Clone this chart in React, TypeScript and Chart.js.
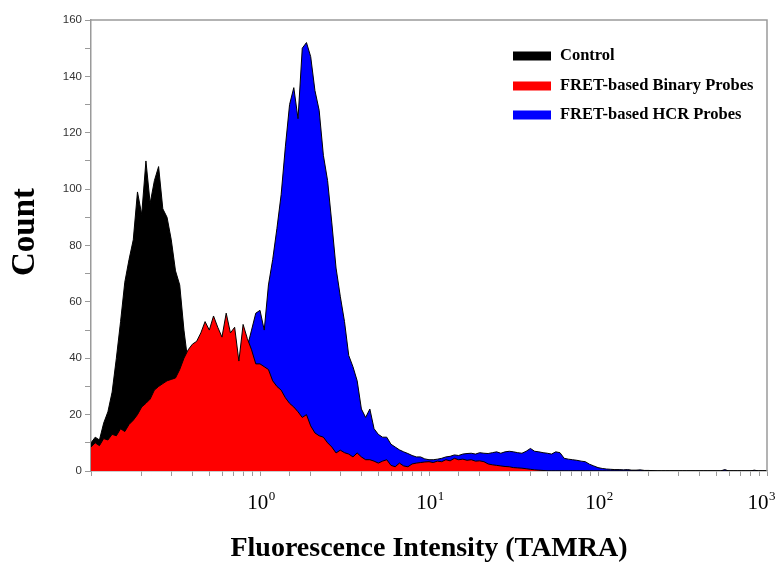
import { useEffect, useRef } from "react";
import { Chart, registerables, Plugin } from "chart.js";

Chart.register(...registerables);

// channel positions: 40 log-spaced channels per decade, 10^-1 .. 10^3
const CHANNELS = Array.from({ length: 161 }, (_, i) => Math.pow(10, -1 + i / 40));

const SERIES_NAMES = ["Control", "FRET-based Binary Probes", "FRET-based HCR Probes"];
const SERIES_COLORS = ["#000000", "#ff0000", "#0000ff"];

const CONTROL_COUNTS = [
  10, 12, 11, 17, 21, 28, 40, 53, 67, 75,
  82, 99, 91, 110, 95, 103, 108, 93, 90, 82,
  71, 66, 50, 38, 28, 20, 13, 8, 5, 3,
  2, 1, 0, 0, 0, 0, 0, 0, 0, 0,
  0, 0, 0, 0, 0, 0, 0, 0, 0, 0,
  0, 0, 0, 0, 0, 0, 0, 0, 0, 0,
  0, 0, 0, 0, 0, 0, 0, 0, 0, 0,
  0, 0, 0, 0, 0, 0, 0, 0, 0, 0,
  0, 0, 0, 0, 0, 0, 0, 0, 0, 0,
  0, 0, 0, 0, 0, 0, 0, 0, 0, 0,
  0, 0, 0, 0, 0, 0, 0, 0, 0, 0,
  0, 0, 0, 0, 0, 0, 0, 0, 0, 0,
  0, 0, 0, 0, 0, 0, 0, 0, 0, 0,
  0, 0, 0, 0, 0, 0, 0, 0, 0, 0,
  0, 0, 0, 0, 0, 0, 0, 0, 0, 0,
  0, 0, 0, 0, 0, 0, 0, 0, 0, 0,
  0,
];

const BINARY_COUNTS = [
  8.5, 10, 9, 11.5, 11, 13, 12.5, 15, 14, 16.5,
  18, 20, 22.7, 24, 25.5, 28.7, 30, 31, 32, 32.5,
  33, 36, 40, 43, 45, 46, 49, 53, 50, 55,
  51, 47.5, 56, 49, 51, 39, 52, 47, 43, 38,
  38, 37, 36, 32, 30, 28.7, 26, 24, 22.7, 21,
  19, 20, 16, 13.5, 12.5, 12, 10, 8.5, 6.4, 7.4,
  6.5, 6, 5, 6.4, 5, 4, 4, 3.5, 2.8, 3.5,
  4, 2, 1.5, 2.8, 1.8, 1.5, 2.5, 2.8, 3, 3.2,
  3.3, 3, 3.5, 3.3, 4, 3.6, 4.5, 4, 4.2, 3.8,
  4, 3.5, 3.6, 3.3, 2.5, 2.2, 2, 1.8, 1.6, 1.5,
  1.2, 1.1, 1, 0.8, 0.6, 0.4, 0.3, 0.2, 0, 0,
  0, 0, 0, 0, 0, 0, 0, 0, 0, 0,
  0, 0, 0, 0, 0, 0, 0, 0, 0, 0,
  0, 0, 0, 0, 0, 0, 0, 0, 0, 0,
  0, 0, 0, 0, 0, 0, 0, 0, 0, 0,
  0, 0, 0, 0, 0, 0, 0, 0, 0, 0,
  0,
];

const HCR_COUNTS = [
  0, 0, 0, 0, 0, 0, 0, 0, 0, 0,
  0, 0, 0, 0, 0, 0, 0, 0, 0, 0,
  0, 0, 0, 0, 0, 0, 0, 0, 0, 0,
  10, 14, 18, 22, 27, 32, 38, 44, 50, 56,
  57, 50, 66, 75, 86, 98, 115, 130, 136, 125,
  150, 152, 147, 135, 128, 112, 103, 88, 72, 62,
  53, 41, 37, 32, 22, 19, 22, 15, 13, 12,
  12, 9.5, 8.5, 7.5, 6.8, 6.2, 5.5, 5, 5, 4.3,
  4, 4, 4.2, 4.5, 5, 5.2, 5.7, 5.5, 6, 6.2,
  6.3, 6, 6.5, 6.3, 6.2, 6.5, 6.8, 6.3, 6.8, 7,
  6.8, 6.5, 6.3, 7, 8, 7, 6.8, 6.5, 6.3, 6,
  6.8, 6.5, 4.5, 4.2, 4, 3.8, 3.5, 3.3, 2.4, 1.8,
  1.2, 0.9, 0.7, 0.6, 0.5, 0.5, 0.4, 0.5, 0.3, 0.3,
  0.4, 0.2, 0.2, 0.1, 0, 0, 0, 0, 0, 0,
  0, 0, 0, 0, 0, 0, 0, 0, 0, 0,
  0.5, 0, 0, 0, 0, 0, 0, 0.3, 0, 0,
  0,
];

// decade labels drawn as 10 with a raised exponent
const X_DECADES = [0, 1, 2, 3];
const Y_MAX = 160;
const X_TITLE = "Fluorescence Intensity (TAMRA)";
const Y_TITLE = "Count";

const SERIF = "'Liberation Serif', 'Times New Roman', serif";

const toPoints = (counts: number[]) => counts.map((y, i) => ({ x: CHANNELS[i], y }));

// frame, decade labels, y title and the in-plot legend
const decorPlugin: Plugin<"line"> = {
  id: "decor",
  afterDraw(chart) {
    const { ctx, chartArea, width } = chart;
    const { left, top, right, bottom } = chartArea;
    ctx.save();
    ctx.strokeStyle = "#9a9a9a";
    ctx.lineWidth = 1.5;
    ctx.beginPath();
    ctx.moveTo(left, top);
    ctx.lineTo(right, top);
    ctx.lineTo(right, bottom);
    ctx.stroke();

    // x decade labels
    const xScale = chart.scales.x;
    ctx.fillStyle = "#000";
    ctx.textAlign = "left";
    ctx.textBaseline = "alphabetic";
    X_DECADES.forEach((k) => {
      const px = xScale.getPixelForValue(Math.pow(10, k));
      ctx.font = `21px ${SERIF}`;
      const baseW = ctx.measureText("10").width;
      ctx.font = `13px ${SERIF}`;
      const expW = ctx.measureText(String(k)).width;
      let x0 = px - (baseW + expW) / 2 + 1;
      if (x0 + baseW + expW > width - 3) x0 = width - 3 - baseW - expW;
      ctx.font = `21px ${SERIF}`;
      ctx.fillText("10", x0, bottom + 38);
      ctx.font = `13px ${SERIF}`;
      ctx.fillText(String(k), x0 + baseW + 0.5, bottom + 29);
    });

    ctx.font = `bold 33px ${SERIF}`;
    ctx.textAlign = "center";
    ctx.textBaseline = "middle";
    ctx.translate(left - 66, top + 212);
    ctx.rotate(-Math.PI / 2);
    ctx.fillText(Y_TITLE, 0, 0);
    ctx.restore();

    ctx.save();
    ctx.font = `bold 16.5px ${SERIF}`;
    ctx.textAlign = "left";
    ctx.textBaseline = "middle";
    const rows = [36, 66, 95];
    SERIES_NAMES.forEach((name, i) => {
      const x = right - 254;
      const y = top + rows[i];
      ctx.fillStyle = SERIES_COLORS[i];
      ctx.fillRect(x, y - 4.5, 38, 9);
      ctx.fillStyle = "#000";
      ctx.fillText(name, x + 47, y);
    });
    ctx.restore();
  },
};

export default function App() {
  const chartRef = useRef<HTMLCanvasElement>(null);
  const chartInstance = useRef<Chart | null>(null);

  useEffect(() => {
    document.body.style.margin = "0";
    if (!chartRef.current) return;

    if (chartInstance.current) {
      chartInstance.current.destroy();
    }

    const counts = [CONTROL_COUNTS, BINARY_COUNTS, HCR_COUNTS];
    const drawOrder = [1, 0, 2];

    chartInstance.current = new Chart(chartRef.current, {
      type: "line",
      data: {
        datasets: SERIES_NAMES.map((name, i) => ({
          label: name,
          data: toPoints(counts[i]),
          backgroundColor: SERIES_COLORS[i],
          borderColor: "#000",
          borderWidth: 1,
          pointRadius: 0,
          tension: 0,
          fill: "origin",
          order: drawOrder[i],
        })),
      },
      options: {
        animation: false,
        responsive: true,
        maintainAspectRatio: false,
        layout: { padding: { top: 20, right: 11, left: 0, bottom: 0 } },
        plugins: {
          legend: { display: false },
          tooltip: { enabled: false },
        },
        scales: {
          x: {
            type: "logarithmic",
            min: 0.1,
            max: 1000,
            border: { color: "#9a9a9a", width: 1.5 },
            grid: { drawOnChartArea: false, drawTicks: true, tickLength: 5, color: "#9a9a9a" },
            ticks: {
              autoSkip: false,
              maxRotation: 0,
              callback: () => "",
            },
            title: {
              display: true,
              text: X_TITLE,
              color: "#000",
              font: { family: SERIF, size: 28, weight: "bold", lineHeight: 1 },
              padding: 0,
            },
            afterFit: (scale) => {
              scale.height = 92;
              scale.paddingLeft = 0;
              scale.paddingRight = 0;
            },
          },
          y: {
            min: 0,
            max: Y_MAX,
            border: { color: "#9a9a9a", width: 1.5 },
            grid: { drawOnChartArea: false, drawTicks: true, tickLength: 6, color: "#9a9a9a" },
            ticks: {
              stepSize: 10,
              padding: 3,
              color: "#333",
              font: { family: "'Liberation Sans', Arial, sans-serif", size: 11.5 },
              callback: (value) => (Number(value) % 20 === 0 ? String(value) : ""),
            },
            afterFit: (scale) => {
              scale.width = 91;
              scale.paddingTop = 0;
              scale.paddingBottom = 0;
            },
          },
        },
      },
      plugins: [decorPlugin],
    });

    return () => {
      if (chartInstance.current) {
        chartInstance.current.destroy();
        chartInstance.current = null;
      }
    };
  }, []);

  return (
    <div style={{ position: "relative", width: 778, height: 563, background: "#fff" }}>
      <canvas ref={chartRef} />
    </div>
  );
}
